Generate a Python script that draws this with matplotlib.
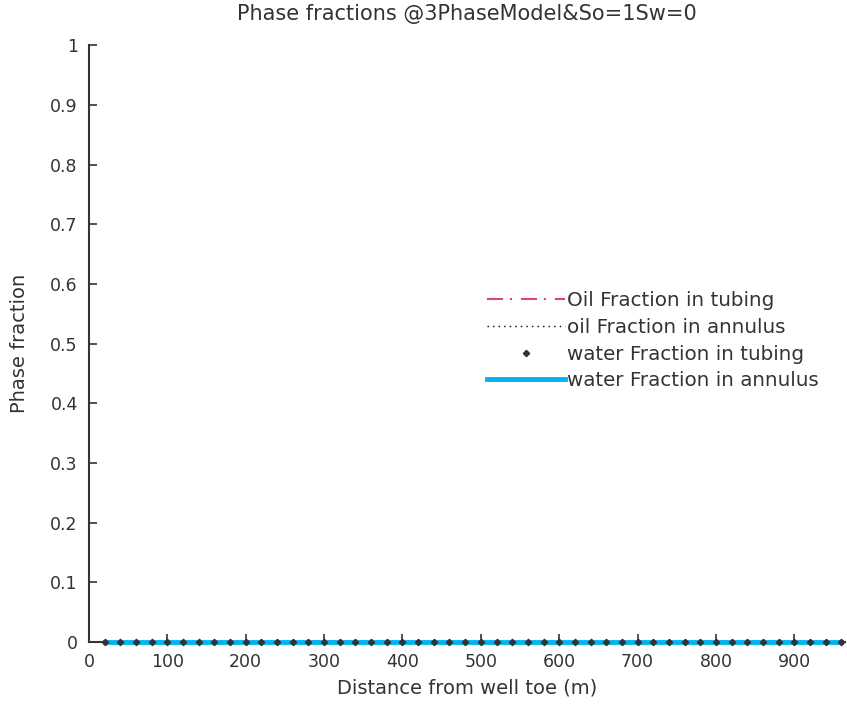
import matplotlib.pyplot as plt
import numpy as np

# distance along the well (m) and phase fractions
distance = [20, 40, 60, 80, 100, 120, 140, 160, 180, 200, 220, 240, 260, 280, 300,
            320, 340, 360, 380, 400, 420, 440, 460, 480, 500, 520, 540, 560, 580, 600,
            620, 640, 660, 680, 700, 720, 740, 760, 780, 800, 820, 840, 860, 880, 900,
            920, 940, 960]
oil_tubing = [0.0] * len(distance)
oil_annulus = [0.0] * len(distance)
water_tubing = [0.0] * len(distance)
water_annulus = [0.0] * len(distance)

xticks = [0, 100, 200, 300, 400, 500, 600, 700, 800, 900]
yticks = [0, 0.1, 0.2, 0.3, 0.4, 0.5, 0.6, 0.7, 0.8, 0.9, 1]
ytick_labels = ["0", "0.1", "0.2", "0.3", "0.4", "0.5", "0.6", "0.7", "0.8", "0.9", "1"]

plt.rcParams["font.family"] = ["DejaVu Sans"]

fig = plt.figure(figsize=(8.47, 7.08), dpi=100)
ax = fig.add_axes([0.105, 0.093, 0.893, 0.843])

ax.plot(distance, oil_tubing, color="#e0407f", linestyle=(0, (7.7, 3.3, 1, 4.3)),
        lw=1.5, label="Oil Fraction in tubing", clip_on=False)
ax.plot(distance, oil_annulus, color="black", linestyle=(0, (1, 3)), lw=1,
        label="oil Fraction in annulus", clip_on=False)
ax.plot(distance, water_annulus, color="#00b4ef", lw=3.5,
        label="water Fraction in annulus", zorder=3, clip_on=False)
ax.plot(distance, water_tubing, color="#333333", linestyle="none", marker="D",
        markersize=3.2, label="water Fraction in tubing", zorder=4, clip_on=False)

ax.set_xlim(0, 965)
ax.set_ylim(0, 1)
ax.set_xticks(xticks)
ax.set_yticks(yticks)
ax.set_yticklabels(ytick_labels)
ax.tick_params(direction="in", length=6, labelsize=12.5, colors="#333333",
               width=1.2)
ax.tick_params(axis="x", pad=8)
ax.tick_params(axis="y", pad=8)
for s in ["top", "right"]:
    ax.spines[s].set_visible(False)
for s in ["left", "bottom"]:
    ax.spines[s].set_linewidth(1.5)
    ax.spines[s].set_color("#333333")

ax.set_title("Phase fractions @3PhaseModel&So=1Sw=0", fontsize=15,
             color="#333333", pad=18)
ax.set_xlabel("Distance from well toe (m)", fontsize=14, color="#333333", labelpad=5)
ax.set_ylabel("Phase fraction", fontsize=14, color="#333333", labelpad=15)

handles, labels = ax.get_legend_handles_labels()
order = [0, 1, 3, 2]
ax.legend([handles[i] for i in order], [labels[i] for i in order],
          frameon=False, fontsize=14.3, handlelength=3.9, handletextpad=0.1,
          labelspacing=0.38, loc="center left", bbox_to_anchor=(0.503, 0.505),
          labelcolor="#333333")

fig.savefig("out.png", dpi=100)
